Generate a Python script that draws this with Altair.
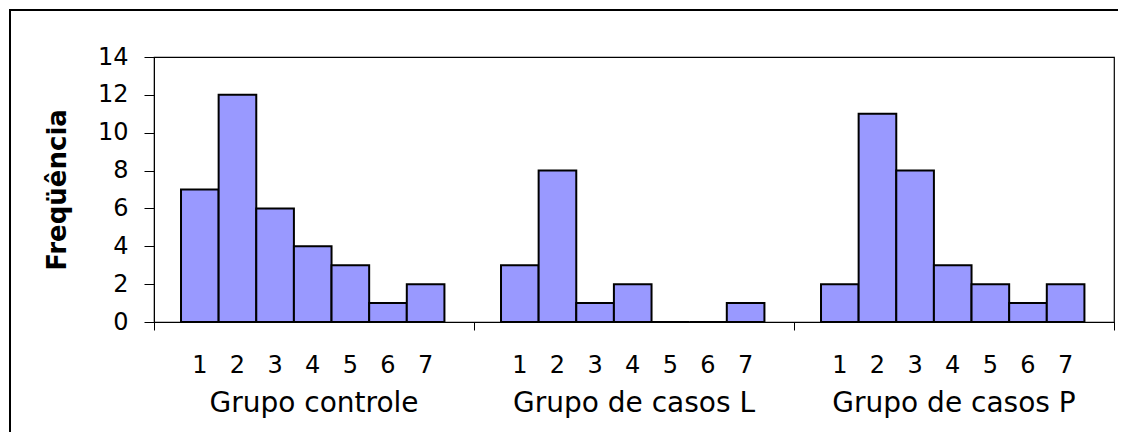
import altair as alt
import pandas as pd

# ---- data ----
groups = ["Grupo controle", "Grupo de casos L", "Grupo de casos P"]
categories = ["1", "2", "3", "4", "5", "6", "7"]
controle = [7, 12, 6, 4, 3, 1, 2]
casos_l = [3, 8, 1, 2, 0, 0, 1]
casos_p = [2, 11, 8, 3, 2, 1, 2]
y_ticks = [0, 2, 4, 6, 8, 10, 12, 14]

series = [controle, casos_l, casos_p]

# layout inside each group (fraction of group width)
GAP = 0.0844
W = 0.1176

rows = []
for gi, (g, vals) in enumerate(zip(groups, series)):
    for ci, (c, v) in enumerate(zip(categories, vals)):
        x0 = gi + GAP + ci * W
        rows.append({"group": g, "cat": c, "freq": v,
                     "x0": x0, "x1": x0 + W, "xm": x0 + W / 2})
df = pd.DataFrame(rows)
gdf = pd.DataFrame({"group": groups, "gm": [i + 0.5 for i in range(len(groups))]})

FONT = "DejaVu Sans"
xscale = alt.Scale(domain=[0, 3], nice=False, zero=False)
yscale = alt.Scale(domain=[0, 14], nice=False)

frame = alt.Chart(alt.Data(values=[{}])).mark_rect(
    fill="transparent", stroke="black", strokeWidth=2
).encode(
    x=alt.value(-144), x2=alt.value(1100), y=alt.value(-47), y2=alt.value(700)
)

bars = alt.Chart(df).mark_bar(
    color="#9999FF", stroke="black", strokeWidth=2
).encode(
    x=alt.X("x0:Q", scale=xscale,
            axis=alt.Axis(values=[0, 1, 2, 3], labels=False, title=None,
                          tickSize=8, tickColor="black", domainColor="black",
                          grid=False)),
    x2="x1:Q",
    y=alt.Y("freq:Q", scale=yscale,
            axis=alt.Axis(values=y_ticks, title="Freqüência", grid=False,
                          tickSize=10, labelPadding=16, tickColor="black",
                          domainColor="black", titleX=-97, titleY=132.5,
                          titleAngle=270, titleAlign="center",
                          titleBaseline="middle")),
    y2=alt.datum(0),
)

cat_text = alt.Chart(df).mark_text(
    font=FONT, fontSize=24, baseline="alphabetic", color="black"
).encode(
    x=alt.X("xm:Q", scale=xscale),
    y=alt.value(316),
    text="cat:N",
)

group_text = alt.Chart(gdf).mark_text(
    font=FONT, fontSize=28, baseline="alphabetic", color="black"
).encode(
    x=alt.X("gm:Q", scale=xscale),
    y=alt.value(355),
    text="group:N",
)

chart = alt.layer(frame, bars, cat_text, group_text).properties(
    width=960, height=265,
    autosize=alt.AutoSizeParams(type="none"),
    padding={"left": 146, "top": 49, "right": 4, "bottom": 110},
).configure_view(
    stroke="black", strokeWidth=1.2
).configure_axis(
    labelFont=FONT, labelFontSize=24, labelColor="black",
    titleFont=FONT, titleFontSize=26, titleColor="black", titleFontWeight="bold",
)

chart.save("out.html", embed_options={"renderer": "svg", "actions": False})
